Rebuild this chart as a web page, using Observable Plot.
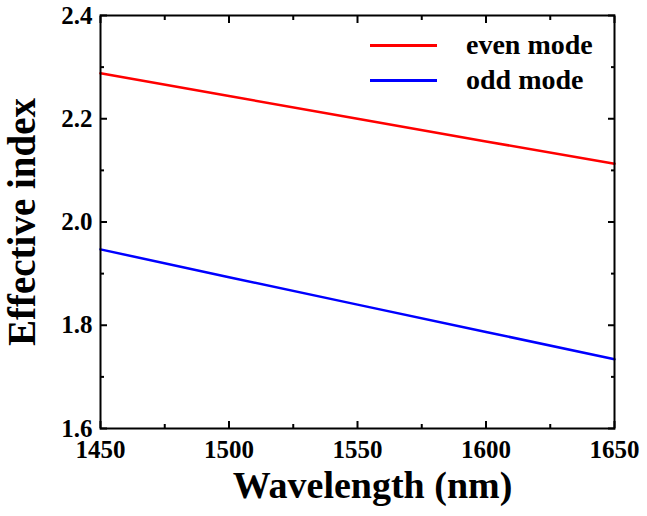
<!DOCTYPE html>
<html><head><meta charset="utf-8">
<script src="https://cdn.jsdelivr.net/npm/d3@7"></script>
<script src="https://cdn.jsdelivr.net/npm/@observablehq/plot@0.6"></script>
<style>
body{margin:0;background:#fff;}
#wrap{position:relative;width:647px;height:516px;font-family:"Liberation Serif","Times New Roman",serif;font-weight:bold;}
.leg{position:absolute;left:370px;display:flex;align-items:center;font-size:28px;line-height:28px;color:#000;white-space:nowrap;}
.leg .sw{width:67px;height:3px;margin-right:29px;}
svg text{font-family:"Liberation Serif","Times New Roman",serif;}
</style></head>
<body><div id="wrap"></div>
<script>
const wavelength = [1450, 1500, 1550, 1600, 1650];
const evenMode = [2.288, 2.244, 2.200, 2.156, 2.113];
const oddMode = [1.947, 1.893, 1.840, 1.787, 1.734];
const seriesNames = ["even mode", "odd mode"];
const seriesColors = ["#ff0000", "#0000ff"];
const xMajor = [1450, 1500, 1550, 1600, 1650];
const xMinor = [1475, 1525, 1575, 1625];
const yMajor = [1.6, 1.8, 2.0, 2.2, 2.4];
const yMinor = [1.7, 1.9, 2.1, 2.3];
const xTitle = "Wavelength (nm)";
const yTitle = "Effective index";

const rows = [];
wavelength.forEach((w, i) => {
  rows.push({w, n: evenMode[i], s: seriesNames[0]});
  rows.push({w, n: oddMode[i], s: seriesNames[1]});
});

const font = "'Liberation Serif', 'Times New Roman', serif";
const chart = Plot.plot({
  width: 647, height: 516,
  marginLeft: 100, marginRight: 33, marginTop: 15, marginBottom: 88,
  style: {fontFamily: font, fontWeight: "bold", background: "#fff", color: "#000", overflow: "visible"},
  x: {domain: [1450, 1650]},
  y: {domain: [1.6, 2.4]},
  color: {domain: seriesNames, range: seriesColors},
  marks: [
    Plot.line(rows, {x: "w", y: "n", z: "s", stroke: "s", strokeWidth: 2.5}),
    Plot.frame({stroke: "#000", strokeWidth: 2}),
    Plot.axisX({anchor: "bottom", ticks: xMajor, tickFormat: d3.format("d"), tickSize: -7, tickPadding: 19, fontSize: 25, fontFamily: font, fontWeight: "bold", strokeWidth: 2, label: null}),
    Plot.axisX({anchor: "bottom", ticks: xMinor, tickSize: -4, fill: "none", strokeWidth: 2, label: null}),
    Plot.axisX({anchor: "top", ticks: xMajor, tickSize: -7, fill: "none", strokeWidth: 2, label: null}),
    Plot.axisX({anchor: "top", ticks: xMinor, tickSize: -4, fill: "none", strokeWidth: 2, label: null}),
    Plot.axisY({anchor: "left", ticks: yMajor, tickFormat: d3.format(".1f"), tickSize: -7, tickPadding: 15, fontSize: 25, fontFamily: font, fontWeight: "bold", strokeWidth: 2, label: null}),
    Plot.axisY({anchor: "left", ticks: yMinor, tickSize: -4, fill: "none", strokeWidth: 2, label: null}),
    Plot.axisY({anchor: "right", ticks: yMajor, tickSize: -7, fill: "none", strokeWidth: 2, label: null}),
    Plot.axisY({anchor: "right", ticks: yMinor, tickSize: -4, fill: "none", strokeWidth: 2, label: null}),
    Plot.text([xTitle], {frameAnchor: "bottom", text: d => d, dy: 69, dx: 15, fontSize: 38, fontWeight: "bold", fontFamily: font}),
    Plot.text([yTitle], {frameAnchor: "left", textAnchor: "middle", text: d => d, dx: -78, rotate: -90, fontSize: 39, fontWeight: "bold", fontFamily: font})
  ]
});
const wrap = document.getElementById("wrap");
wrap.appendChild(chart);
const tops = [45, 80];
seriesNames.forEach((name, i) => {
  const d = document.createElement("div");
  d.className = "leg";
  d.style.top = (tops[i] - 14) + "px";
  const sw = document.createElement("span");
  sw.className = "sw";
  sw.style.background = seriesColors[i];
  const t = document.createElement("span");
  t.textContent = name;
  d.appendChild(sw); d.appendChild(t);
  wrap.appendChild(d);
});
</script></body></html>
